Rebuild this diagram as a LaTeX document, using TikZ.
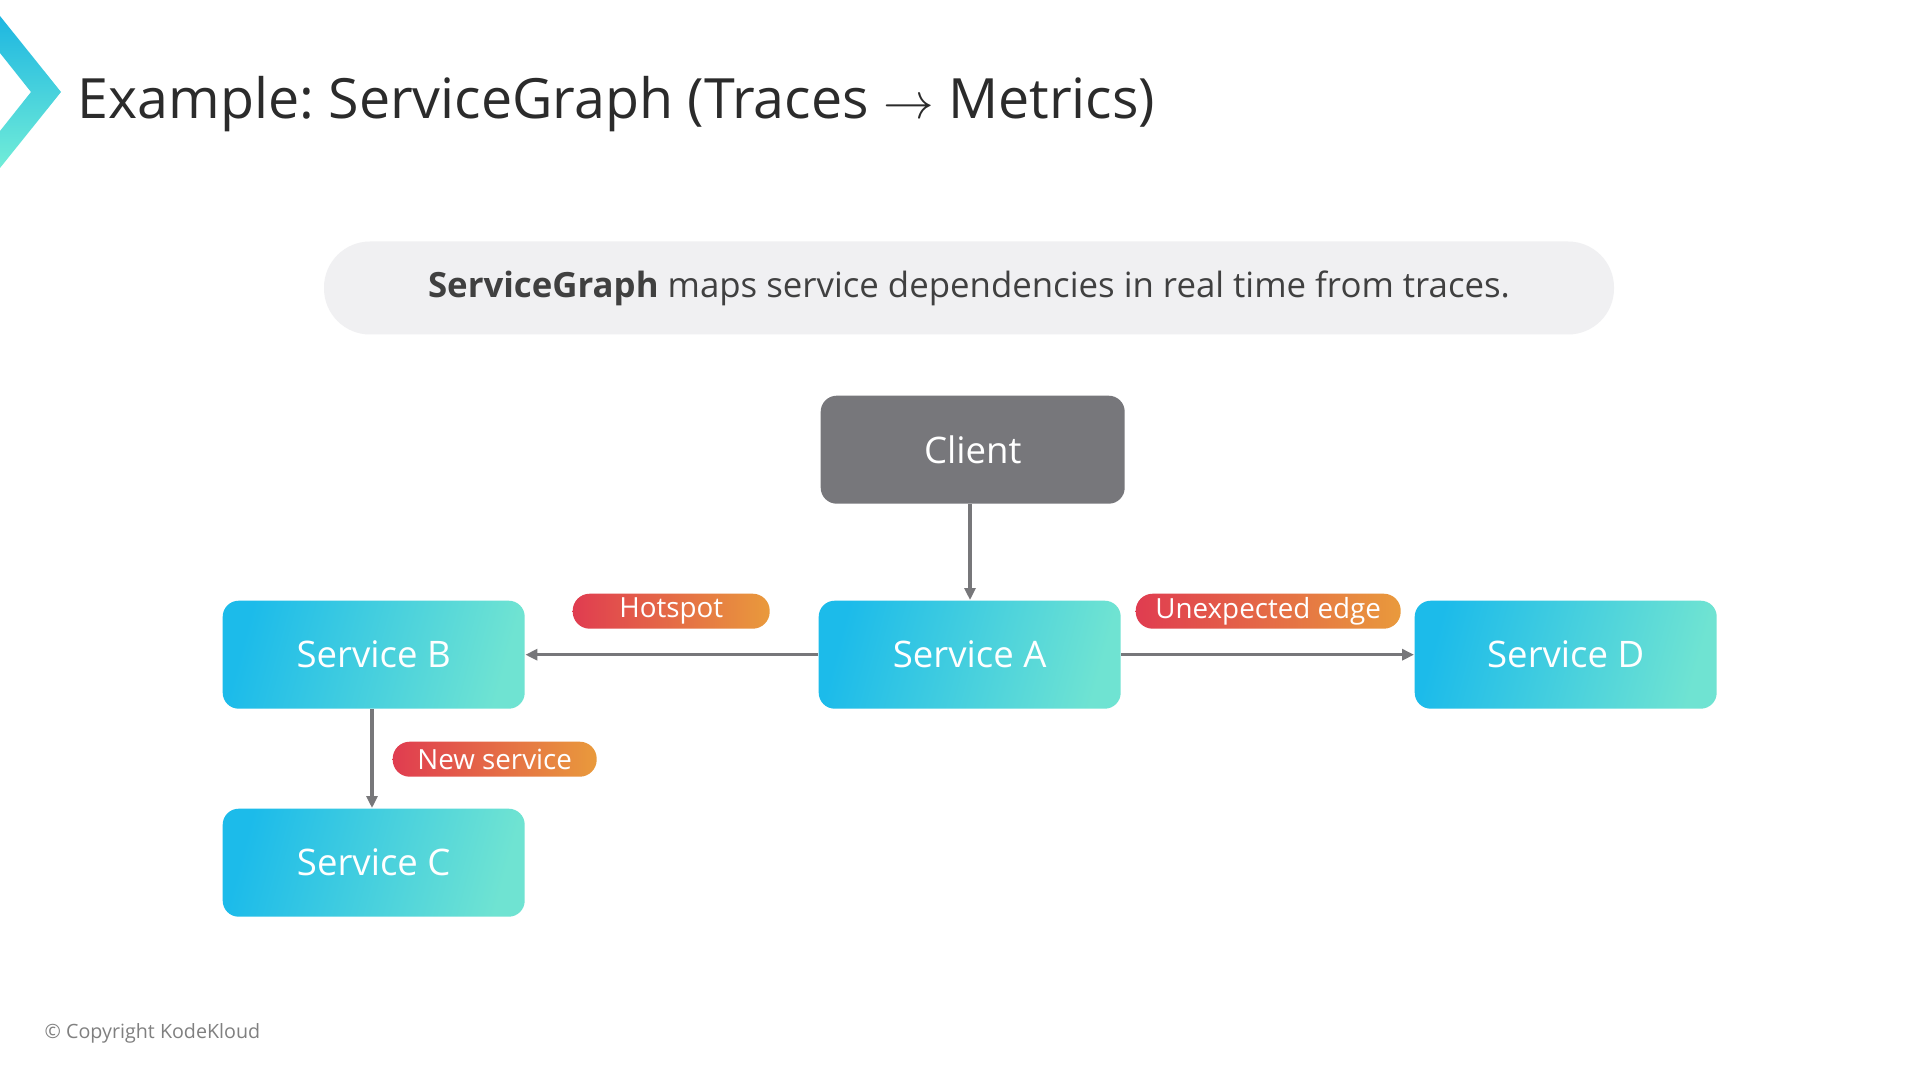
\documentclass[tikz,border=0pt]{standalone}
\usepackage{fontspec}
\setmainfont{Open Sans}
\usetikzlibrary{arrows.meta}
\frenchspacing

\definecolor{svcleft}{HTML}{1CBBEA}
\definecolor{svcright}{HTML}{6FE3D2}
\definecolor{tagleft}{HTML}{E03C50}
\definecolor{tagright}{HTML}{E99A3C}
\definecolor{clientgray}{HTML}{77777B}
\definecolor{linkgray}{HTML}{77777A}
\definecolor{pillgray}{HTML}{F0F0F2}
\definecolor{titlegray}{HTML}{2B2B2B}
\definecolor{chevtop}{HTML}{1DB6E1}
\definecolor{chevbottom}{HTML}{72EDD8}

\tikzset{
  svcbox/.style={rounded corners=0.16cm, minimum width=3.02cm, minimum height=1.08cm,
    anchor=north west, left color=svcleft, right color=svcright, shading angle=75,
    text=white, font=\fontsize{10.4}{12}\selectfont},
  tagbox/.style={rounded corners=0.17cm, minimum height=0.35cm, inner sep=0pt,
    anchor=north west, left color=tagleft, right color=tagright,
    text=white, font=\fontsize{7.9}{9}\selectfont},
  link/.style={draw=linkgray, line width=0.9pt, -{Triangle[length=0.12cm, width=0.11cm]}}
}

\begin{document}
\begin{tikzpicture}
  \useasboundingbox[fill=white] (0,0) rectangle (19.2,-10.8);

  %coordinates
  \coordinate (ClientBox) at (8.20,-3.95);
  \coordinate (SvcABox)   at (8.18,-6.00);
  \coordinate (SvcBBox)   at (2.22,-6.00);
  \coordinate (SvcCBox)   at (2.22,-8.08);
  \coordinate (SvcDBox)   at (14.14,-6.00);
  \coordinate (HotTag)    at (5.72,-5.93);
  \coordinate (EdgeTag)   at (11.35,-5.93);
  \coordinate (NewTag)    at (3.92,-7.41);

  %chevron and title
  \shade[top color=chevtop, bottom color=chevbottom]
    (0,-0.16) -- (0.61,-0.92) -- (0,-1.68) -- (0,-1.31) -- (0.31,-0.92) -- (0,-0.53) -- cycle;
  \node[anchor=base west, inner sep=0pt, text=titlegray, font=\fontsize{15.8}{19}\selectfont]
    (title) at (0.77,-1.19) {Example: ServiceGraph (Traces $\rightarrow$ Metrics)};

  %summary
  \node[fill=pillgray, rounded corners=0.46cm, minimum width=12.9cm, minimum height=0.93cm,
    text=titlegray!90, font=\fontsize{9.9}{11}\selectfont] (summary) at (9.69,-2.88)
    {\textbf{ServiceGraph} maps service dependencies in real time from traces.};

  %nodes
  \node[rounded corners=0.16cm, minimum width=3.04cm, minimum height=1.08cm, anchor=north west,
    fill=clientgray, text=white, font=\fontsize{10.4}{12}\selectfont] (client) at (ClientBox) {Client};
  \node[svcbox] (A) at (SvcABox) {Service A};
  \node[svcbox] (B) at (SvcBBox) {Service B};
  \node[svcbox] (C) at (SvcCBox) {Service C};
  \node[svcbox] (D) at (SvcDBox) {Service D};

  \node[tagbox, minimum width=1.97cm] (hot) at (HotTag) {Hotspot};
  \node[tagbox, minimum width=2.65cm] (unexp) at (EdgeTag) {Unexpected edge};
  \node[tagbox, minimum width=2.04cm] (newsvc) at (NewTag) {New service};

  %links
  \draw[link] (client.south -| 9.70,0) -- (A.north -| 9.70,0);
  \draw[link] (A) -- (B);
  \draw[link] (A) -- (D);
  \draw[link] (B.south -| 3.72,0) -- (C.north -| 3.72,0);

  \node[anchor=base west, inner sep=0pt, text=gray, font=\fontsize{5.6}{7}\selectfont]
    (copy) at (0.44,-10.38) {\textcopyright{} Copyright KodeKloud};
\end{tikzpicture}
\end{document}
